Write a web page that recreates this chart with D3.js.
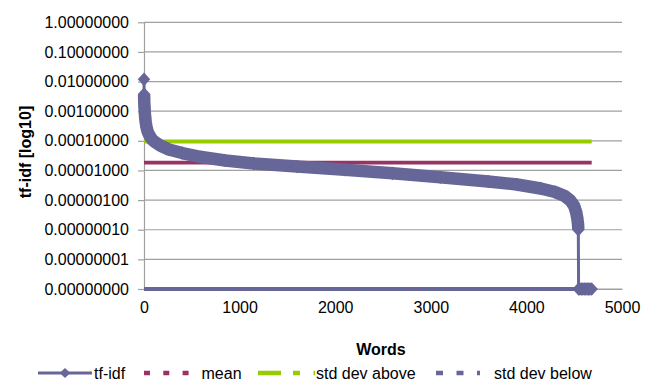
<!DOCTYPE html>
<html>
<head>
<meta charset="utf-8">
<script src="https://cdn.jsdelivr.net/npm/d3@7"></script>
<style>
  body { margin: 0; background: #fff; }
  svg { display: block; }
  text { font-family: "Liberation Sans", Arial, sans-serif; fill: #000; }
</style>
</head>
<body>
<svg id="chart" width="650" height="382"></svg>
<script>
// Words ranked by tf-idf score (descending); zero scores sit on the axis floor
const ranks = [0, 1, 2, 3, 5, 8, 12, 18, 26, 38,
  55, 80, 115, 170, 260, 400, 600, 850, 1150, 1600,
  2100, 2600, 3100, 3600, 3900, 4150, 4300, 4400, 4460, 4500,
  4520, 4532, 4540, 4543,
  4546, 4560, 4575, 4590, 4605, 4620, 4635, 4650, 4665, 4683];
const tfidf = [0.0119, 0.0038, 0.00258, 0.00189, 0.00138, 0.00094, 0.00064, 0.00043, 0.00029, 0.000206,
  0.000157, 0.000115, 0.000091, 0.0000695, 0.0000509, 0.0000388, 0.0000284, 0.0000217, 0.0000172, 0.0000136,
  0.0000106, 0.0000080, 0.00000587, 0.00000424, 0.00000336, 0.00000246, 0.00000187, 0.00000137, 0.00000097, 0.00000063,
  0.000000396, 0.000000248, 0.000000156, 0.000000100,
  0, 0, 0, 0, 0, 0, 0, 0, 0, 0];

// Summary statistics drawn as horizontal reference lines
const refNames = ["mean", "std dev above", "std dev below"];
const refValues = [0.0000185, 0.000095, -0.0000580];
const refColors = ["#993366", "#99cc00", "#666699"];

// Axis ticks
const yTicks = [1, 0.1, 0.01, 0.001, 0.0001, 0.00001, 0.000001, 0.0000001, 0.00000001, 0.000000001];
const xTicks = [0, 1000, 2000, 3000, 4000, 5000];

const seriesColor = "#666699";
const gridColor = "#a0a0a0";

const svg = d3.select("#chart");
const x = d3.scaleLinear().domain([0, 5000]).range([144, 622]);
const yMin = 1e-9;
const y = d3.scaleLog().domain([yMin, 1]).range([289, 22.3]);
const yv = v => y(Math.max(v, yMin));   // values at or below the floor drawn on it

const pts = ranks.map((r, i) => ({ r, v: tfidf[i] }));
const lastRank = ranks[ranks.length - 1];

// Gridlines
svg.append("g").selectAll("line").data(yTicks).join("line")
  .attr("x1", x(0)).attr("x2", x(5000))
  .attr("y1", d => y(d)).attr("y2", d => y(d))
  .attr("stroke", gridColor).attr("stroke-width", 1.2);

// Y axis
const yAxis = svg.append("g").attr("transform", `translate(${x(0)},0)`)
  .call(d3.axisLeft(y).tickValues(yTicks).tickFormat(d => d.toFixed(8))
    .tickSizeInner(6).tickSizeOuter(0).tickPadding(9));
yAxis.select(".domain").attr("stroke", gridColor).attr("stroke-width", 1.2);
yAxis.selectAll(".tick line").attr("stroke", gridColor).attr("stroke-width", 1.2);
yAxis.selectAll(".tick text").attr("font-size", 16).attr("fill", "#000")
  .attr("font-family", "Liberation Sans, Arial, sans-serif");

// X axis
const xAxis = svg.append("g").attr("transform", `translate(0,${y(yMin)})`)
  .call(d3.axisBottom(x).tickValues(xTicks).tickFormat(d3.format("d"))
    .tickSizeInner(0).tickSizeOuter(0).tickPadding(13));
xAxis.select(".domain").attr("stroke", gridColor).attr("stroke-width", 1.2);
xAxis.selectAll(".tick text").attr("font-size", 16).attr("fill", "#000")
  .attr("font-family", "Liberation Sans, Arial, sans-serif");

// Reference lines
svg.append("g").selectAll("line").data(refValues).join("line")
  .attr("x1", x(0)).attr("x2", x(lastRank))
  .attr("y1", d => yv(d)).attr("y2", d => yv(d))
  .attr("stroke", (d, i) => refColors[i]).attr("stroke-width", 3.8);

// tf-idf series: marker trail, connecting line, diamond markers
const line = d3.line().x(d => x(d.r)).y(d => yv(d.v));
const nonZero = pts.filter(d => d.v > 0);
svg.append("path").datum(nonZero.slice(1))
  .attr("d", line).attr("fill", "none")
  .attr("stroke", seriesColor).attr("stroke-width", 12.5)
  .attr("stroke-linejoin", "round");
svg.append("path").datum(pts)
  .attr("d", line).attr("fill", "none")
  .attr("stroke", seriesColor).attr("stroke-width", 3);
const diamond = "M0,-6.8L6.2,0L0,6.8L-6.2,0Z";
svg.append("g").selectAll("path").data(pts).join("path")
  .attr("d", diamond)
  .attr("transform", d => `translate(${x(d.r)},${yv(d.v)})`)
  .attr("fill", seriesColor);

// Axis titles
svg.append("text").attr("x", 381).attr("y", 355)
  .attr("text-anchor", "middle").attr("font-size", 16).attr("font-weight", "bold")
  .text("Words");
svg.append("text").attr("transform", "translate(31,152) rotate(-90)")
  .attr("text-anchor", "middle").attr("font-size", 16).attr("font-weight", "bold")
  .text("tf-idf [log10]");

// Legend
const ly = 373;
const lg = svg.append("g");
lg.append("line").attr("x1", 38).attr("x2", 92).attr("y1", ly).attr("y2", ly)
  .attr("stroke", seriesColor).attr("stroke-width", 3);
lg.append("path").attr("d", "M0,-5L5.3,0L0,5L-5.3,0Z")
  .attr("transform", `translate(65,${ly})`).attr("fill", seriesColor);
lg.append("text").attr("x", 94).attr("y", ly + 5.5).attr("font-size", 16).text("tf-idf");

const legendItems = [
  { name: refNames[0], color: refColors[0], x1: 144, x2: 189, dash: "6,13.3", tx: 201.5 },
  { name: refNames[1], color: refColors[1], x1: 258, x2: 315, dash: "23,12,7,13.5,2", tx: 316 },
  { name: refNames[2], color: refColors[2], x1: 436, x2: 480, dash: "7,13.5", tx: 494 }
];
legendItems.forEach(it => {
  lg.append("line").attr("x1", it.x1).attr("x2", it.x2).attr("y1", ly).attr("y2", ly)
    .attr("stroke", it.color).attr("stroke-width", 4.5).attr("stroke-dasharray", it.dash);
  lg.append("text").attr("x", it.tx).attr("y", ly + 5.5).attr("font-size", 16).text(it.name);
});
</script>
</body>
</html>
